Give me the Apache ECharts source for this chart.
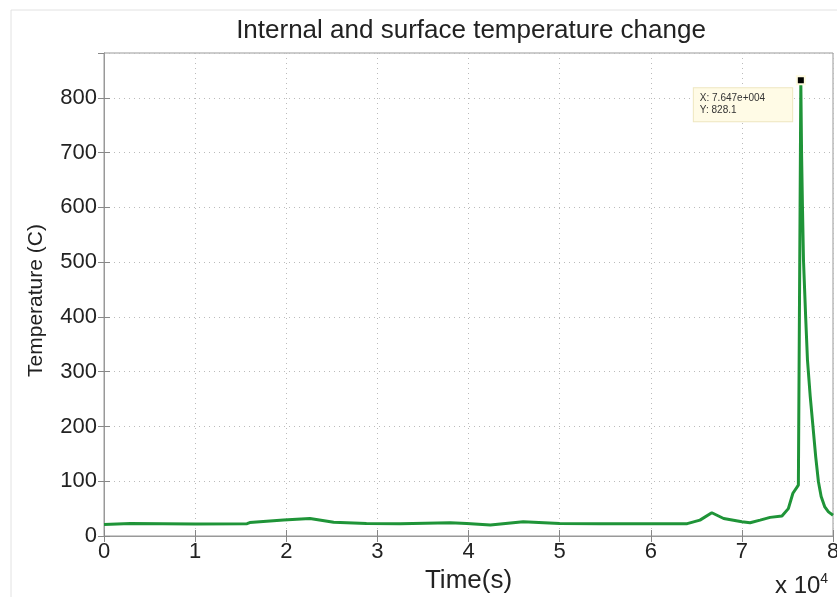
<!DOCTYPE html>
<html>
<head>
<meta charset="utf-8">
<script src="https://cdn.jsdelivr.net/npm/echarts@6/dist/echarts.min.js"></script>
<style>html,body{margin:0;padding:0;background:#fff;overflow:hidden}#c{width:837px;height:597px}</style>
</head>
<body>
<div id="c"></div>
<script>
// Time in seconds, temperature in C
var times = [0, 2900, 10000, 15700, 16000, 19700, 22600, 25200, 28800, 32500, 38000, 39800, 42400, 46000, 50000, 54400, 59900, 64000, 65400, 66700, 68000, 70000, 70900, 72000, 73100, 74400, 75100, 75600, 76200, 76470, 76550, 76650, 76760, 77000, 77200, 77500, 77800, 78100, 78400, 78700, 79100, 79500, 80000];
var temps = [21, 23, 22, 22.5, 24.5, 29, 32, 25, 23, 22.5, 24, 23, 20, 26, 23, 22.5, 22.5, 22.5, 29, 42.5, 32, 26, 24.3, 29, 34, 36.5, 50, 78, 93, 828.1, 700, 600, 504, 400, 321, 255, 200, 145, 99, 72, 53, 44, 38];
var xTicks = [0, 1, 2, 3, 4, 5, 6, 7, 8];
var peakX = 76470, peakY = 828.1;

var data = times.map(function (t, i) { return [t, temps[i]]; });
var font = 'Liberation Sans, Arial, sans-serif';
var chart = echarts.init(document.getElementById('c'));
var gridLine = { show: true, lineStyle: { color: '#bbb', type: [1, 4], width: 1 } };
var axisLineStyle = { color: '#999', width: 1 };
chart.setOption({
  animation: false,
  title: {
    text: 'Internal and surface temperature change',
    left: 466, top: 13, textAlign: 'center',
    textStyle: { fontFamily: font, fontSize: 26, fontWeight: 'normal', color: '#222' }
  },
  grid: { left: 104, width: 729, top: 53, height: 483, show: true, borderColor: '#999', borderWidth: 1, outerBoundsMode: 'none', containLabel: false },
  xAxis: [{
    type: 'value', min: 0, max: 80000, interval: 10000,
    axisLine: { show: true, lineStyle: axisLineStyle },
    axisTick: { show: true, inside: true, length: 6, lineStyle: { color: '#888' } },
    axisLabel: { fontFamily: font, fontSize: 22, color: '#222', margin: 5,
      formatter: function (v) { return String(Math.round(v / 10000)); } },
    splitLine: gridLine,
    name: 'Time(s)', nameLocation: 'middle', nameGap: 30,
    nameTextStyle: { fontFamily: font, fontSize: 26, color: '#222' }
  }, {
    type: 'value', min: 0, max: 80000, interval: 10000, position: 'top',
    axisLine: { show: true, lineStyle: axisLineStyle },
    axisTick: { show: true, inside: true, length: 6, lineStyle: { color: '#888' } },
    axisLabel: { show: false }, splitLine: { show: false }
  }],
  yAxis: [{
    type: 'value', min: 0, max: 882, interval: 100,
    axisLine: { show: true, lineStyle: axisLineStyle },
    axisTick: { show: true, inside: true, length: 6, lineStyle: { color: '#888' } },
    axisLabel: { fontFamily: font, fontSize: 22, color: '#222', margin: 7, showMaxLabel: false },
    splitLine: gridLine,
    name: 'Temperature (C)', nameLocation: 'middle', nameGap: 57, nameRotate: 90,
    nameTextStyle: { fontFamily: font, fontSize: 21, color: '#222', padding: [0, 12, 0, 0] }
  }, {
    type: 'value', min: 0, max: 882, interval: 100, position: 'right',
    axisLine: { show: true, lineStyle: axisLineStyle },
    axisTick: { show: true, inside: true, length: 6, lineStyle: { color: '#888' } },
    axisLabel: { show: false }, splitLine: { show: false }
  }],
  series: [{
    type: 'line', data: data, xAxisIndex: 0, yAxisIndex: 0,
    showSymbol: false, smooth: false,
    lineStyle: { color: '#1f9438', width: 3 },
    itemStyle: { color: '#1f9438' },
    markPoint: {
      symbol: 'rect', symbolSize: 8,
      itemStyle: { color: '#000', borderColor: '#fffbe0', borderWidth: 2 },
      data: [{ coord: [peakX, peakY + 4] }],
      label: {
        show: true, position: [-102, 13],
        formatter: 'X: 7.647e+004\nY: 828.1',
        fontFamily: font, fontSize: 10, color: '#333', lineHeight: 12,
        backgroundColor: '#fffbe6', borderColor: '#eee6c0', borderWidth: 1,
        padding: [4, 27, 5, 6], align: 'left', verticalAlign: 'top'
      }
    }
  }],
  graphic: [
    { type: 'rect', shape: { x: 11, y: 10, width: 840, height: 600 }, style: { fill: 'none', stroke: '#e2e2e2', lineWidth: 1 }, silent: true },
    { type: 'text', left: 775, top: 572, style: { text: 'x 10{s|4}', rich: { s: { fontSize: 14, fontFamily: font, fill: '#222', verticalAlign: 'top', padding: [0,0,14,0] } }, fontFamily: font, fontSize: 24, fill: '#222' } }
  ]
});
</script>
</body>
</html>
